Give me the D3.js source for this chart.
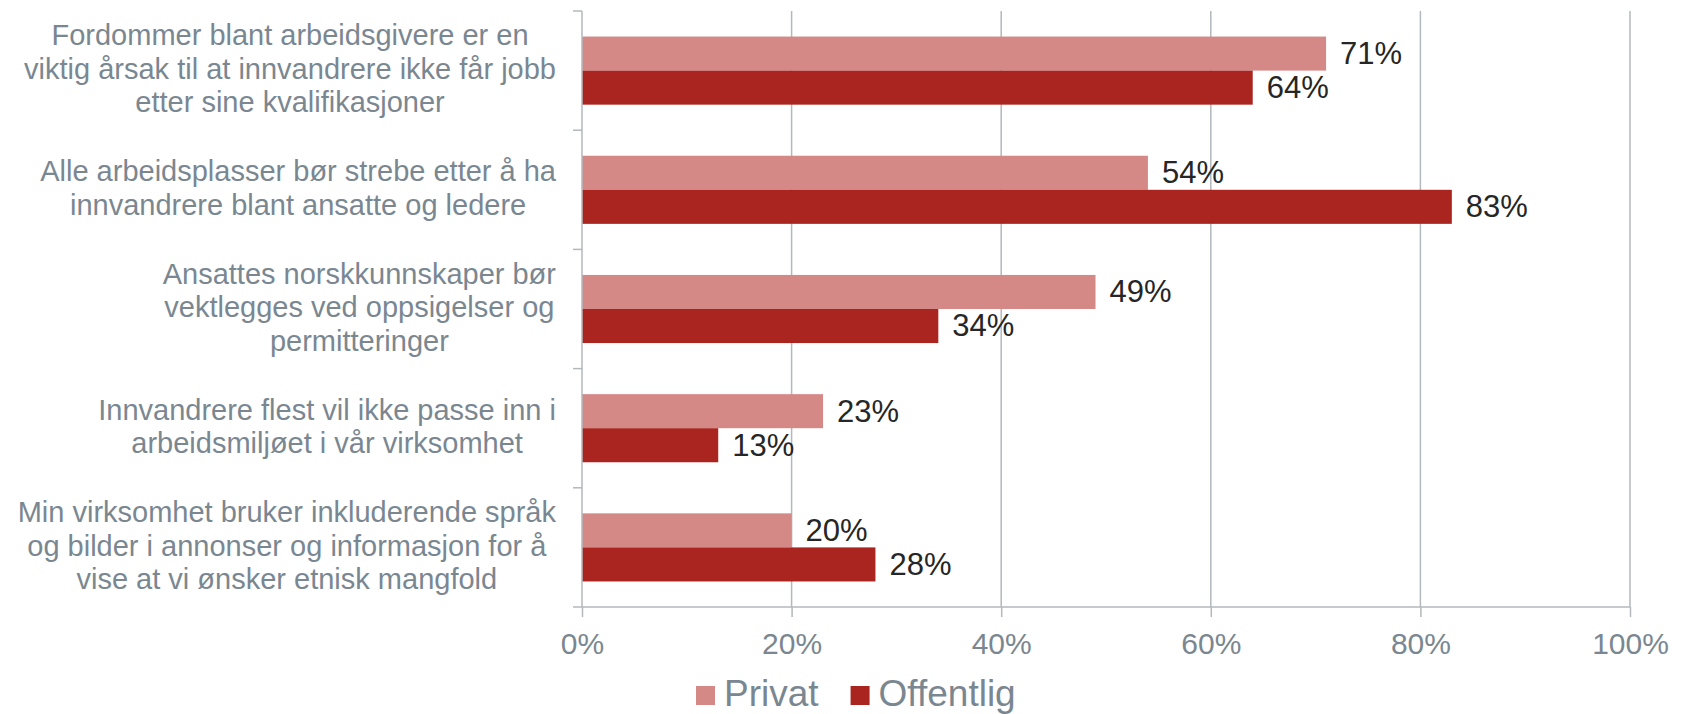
<!DOCTYPE html>
<html>
<head>
<meta charset="utf-8">
<script src="https://cdn.jsdelivr.net/npm/d3@7"></script>
<style>
  html, body { margin: 0; padding: 0; background: #ffffff; }
  svg { display: block; font-family: "Liberation Sans", Arial, sans-serif; }
</style>
</head>
<body>
<svg id="chart" width="1687" height="714"></svg>
<script>
// ---- data ----
const categories = [
  ["Fordommer blant arbeidsgivere er en", "viktig årsak til at innvandrere ikke får jobb", "etter sine kvalifikasjoner"],
  ["Alle arbeidsplasser bør strebe etter å ha", "innvandrere blant ansatte og ledere"],
  ["Ansattes norskkunnskaper bør", "vektlegges ved oppsigelser og", "permitteringer"],
  ["Innvandrere flest vil ikke passe inn i", "arbeidsmiljøet i vår virksomhet"],
  ["Min virksomhet bruker inkluderende språk", "og bilder i annonser og informasjon for å", "vise at vi ønsker etnisk mangfold"]
];
const seriesNames = ["Privat", "Offentlig"];
const privat = [71, 54, 49, 23, 20];
const offentlig = [64, 83, 34, 13, 28];
const xTicks = [0, 20, 40, 60, 80, 100];
const xTickLabels = ["0%", "20%", "40%", "60%", "80%", "100%"];
const colors = ["#d48987", "#aa251f"];

// ---- layout ----
const svg = d3.select("#chart");
const pLeft = 582, pRight = 1630, pTop = 11, pBottom = 607;
const labelRight = 556;
const gridColor = "#b3b8bd";
const textGrey = "#7a8791";

const x = d3.scaleLinear().domain([0, 100]).range([pLeft, pRight]);
const y = d3.scaleBand().domain(d3.range(categories.length)).range([pTop, pBottom]).padding(0);
const ySub = d3.scaleBand().domain(seriesNames).range([0, y.bandwidth()]).paddingInner(0).paddingOuter(0.75);

// gridlines
svg.append("g").selectAll("line").data(xTicks.filter(d => d > 0)).join("line")
  .attr("x1", d => x(d)).attr("x2", d => x(d))
  .attr("y1", pTop).attr("y2", pBottom)
  .attr("stroke", gridColor).attr("stroke-width", 1.5);

// bars
const rows = categories.map((c, i) => ({ i, values: [privat[i], offentlig[i]] }));
const g = svg.append("g");
rows.forEach(r => {
  r.values.forEach((v, k) => {
    const yy = y(r.i) + ySub(seriesNames[k]);
    g.append("rect")
      .attr("x", x(0)).attr("y", yy)
      .attr("width", x(v) - x(0)).attr("height", ySub.bandwidth())
      .attr("fill", colors[k]);
    g.append("text")
      .attr("x", x(v) + 14).attr("y", yy + ySub.bandwidth() / 2 - 1)
      .attr("dy", "0.37em")
      .attr("font-size", 31).attr("fill", "#262626")
      .text(v + "%");
  });
});

// y axis line and ticks
svg.append("line").attr("x1", pLeft).attr("x2", pLeft).attr("y1", pTop).attr("y2", pBottom)
  .attr("stroke", gridColor).attr("stroke-width", 1.5);
svg.append("g").selectAll("line").data(d3.range(categories.length + 1)).join("line")
  .attr("x1", pLeft - 9).attr("x2", pLeft)
  .attr("y1", d => pTop + d * y.step()).attr("y2", d => pTop + d * y.step())
  .attr("stroke", gridColor).attr("stroke-width", 1.5);

// x axis
const xAxis = d3.axisBottom(x).tickValues(xTicks).tickFormat((d, i) => xTickLabels[i]).tickSize(10).tickPadding(16);
const ax = svg.append("g").attr("transform", `translate(0,${pBottom})`).call(xAxis);
ax.select(".domain").attr("stroke", gridColor).attr("stroke-width", 1.5).attr("d", `M${pLeft},0H${pRight}`);
ax.selectAll(".tick line").attr("stroke", gridColor).attr("stroke-width", 1.5);
ax.selectAll(".tick text").attr("font-size", 30).attr("fill", textGrey)
  .attr("font-family", '"Liberation Sans", Arial, sans-serif').attr("dy", "0.71em");

// category labels
const lineH = 33.5;
categories.forEach((lines, i) => {
  const cy = y(i) + y.bandwidth() / 2;
  const t = svg.append("text").attr("font-size", 29).attr("fill", textGrey).attr("text-anchor", "middle");
  const n = lines.length;
  const spans = lines.map((l, j) => t.append("tspan")
    .attr("y", cy + (j - (n - 1) / 2) * lineH - 2)
    .attr("dy", "0.35em")
    .text(l));
  const maxW = d3.max(spans, s => s.node().getComputedTextLength());
  spans.forEach(s => s.attr("x", labelRight - maxW / 2));
});

// legend
const leg = svg.append("g");
let lx = 696;
seriesNames.forEach((name, k) => {
  leg.append("rect").attr("x", lx).attr("y", 686).attr("width", 19).attr("height", 19).attr("fill", colors[k]);
  const tt = leg.append("text").attr("x", lx + 28).attr("y", 706)
    .attr("font-size", 37).attr("fill", textGrey).text(name);
  lx += 28 + tt.node().getComputedTextLength() + 32;
});
</script>
</body>
</html>
